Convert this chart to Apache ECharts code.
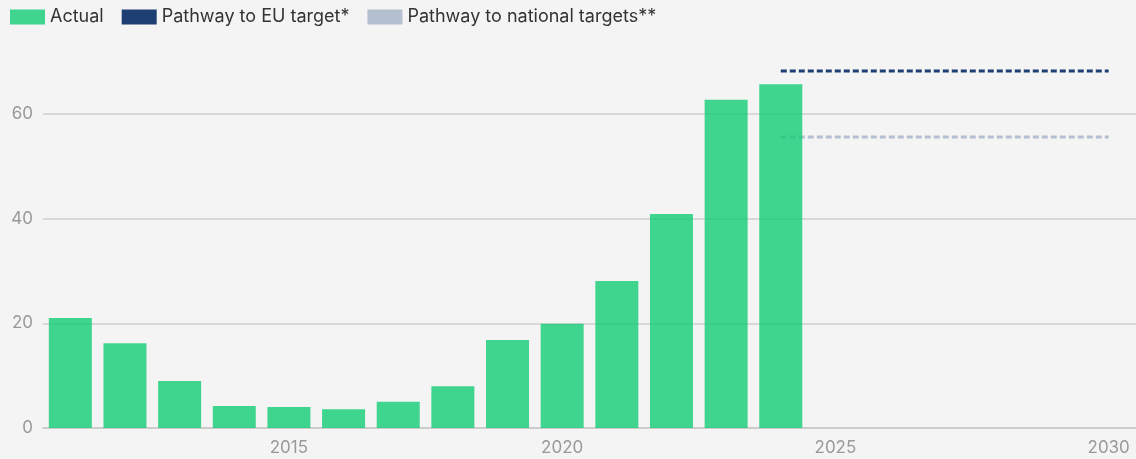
<!DOCTYPE html>
<html>
<head>
<meta charset="utf-8">
<script src="https://cdn.jsdelivr.net/npm/echarts@6/dist/echarts.min.js"></script>
<style>
  html, body { margin: 0; padding: 0; background: #f4f4f4; }
  #chart { width: 1136px; height: 459px; }
</style>
</head>
<body>
<div id="chart"></div>
<script>
// years on the x axis (2011 - 2030)
const years = ['2011', '2012', '2013', '2014', '2015', '2016', '2017', '2018', '2019', '2020',
               '2021', '2022', '2023', '2024', '2025', '2026', '2027', '2028', '2029', '2030'];
// actual values, 2011 - 2024
const actual = [21.0, 16.2, 9.0, 4.2, 4.0, 3.6, 5.0, 8.0, 16.8, 19.9, 28.1, 40.9, 62.7, 65.7];
// pathways (start and end points)
const euPathway = [['2024', 68.2], ['2030', 68.2]];
const nationalPathway = [['2024', 55.6], ['2030', 55.6]];
const yTicks = [0, 20, 40, 60];

const chart = echarts.init(document.getElementById('chart'));
const font = 'Inter, "Noto Sans", sans-serif';

chart.setOption({
    backgroundColor: '#f4f4f4',
    animation: false,
    textStyle: { fontFamily: font },
    legend: {
        left: 5,
        top: 3,
        icon: 'rect',
        itemWidth: 35,
        itemHeight: 15,
        itemGap: 18,
        textStyle: { color: '#333', fontSize: 18, fontFamily: font },
        data: ['Actual', 'Pathway to EU target*', 'Pathway to national targets**']
    },
    grid: {
        left: 43,
        right: 0,
        top: 114,
        bottom: 31
    },
    xAxis: {
        type: 'category',
        data: years,
        boundaryGap: true,
        axisLine: { lineStyle: { color: '#c8c8c8', width: 1.5 } },
        axisTick: {
            alignWithLabel: true,
            length: 5,
            lineStyle: { color: '#a0a0a0' },
            interval: (i, v) => Number(v) % 5 === 0
        },
        axisLabel: {
            color: '#999',
            fontSize: 17,
            margin: 11,
            interval: (i, v) => Number(v) % 5 === 0
        }
    },
    yAxis: {
        type: 'value',
        min: yTicks[0],
        max: yTicks[yTicks.length - 1],
        interval: 20,
        axisLine: { show: false },
        axisTick: { show: false },
        axisLabel: { color: '#999', fontSize: 17, margin: 10 },
        splitLine: { lineStyle: { color: '#cfcfcf', width: 1.5 } }
    },
    series: [
        {
            name: 'Actual',
            type: 'bar',
            data: actual,
            barWidth: 43,
            clip: false,
            z: 3,
            itemStyle: { color: 'rgba(19, 205, 116, 0.8)' },
            color: '#14d17a'
        },
        {
            name: 'Pathway to EU target*',
            type: 'line',
            data: euPathway,
            clip: false,
            symbol: 'none',
            z: 2,
            color: '#1e3f73',
            itemStyle: { color: '#1e3f73' },
            lineStyle: { color: '#1e3f73', width: 3, type: [6, 3] }
        },
        {
            name: 'Pathway to national targets**',
            type: 'line',
            data: nationalPathway,
            clip: false,
            symbol: 'none',
            z: 2,
            color: '#b4bfd0',
            itemStyle: { color: '#b4bfd0' },
            lineStyle: { color: '#b4bfd0', width: 3, type: [6, 3] }
        }
    ]
});
</script>
</body>
</html>
